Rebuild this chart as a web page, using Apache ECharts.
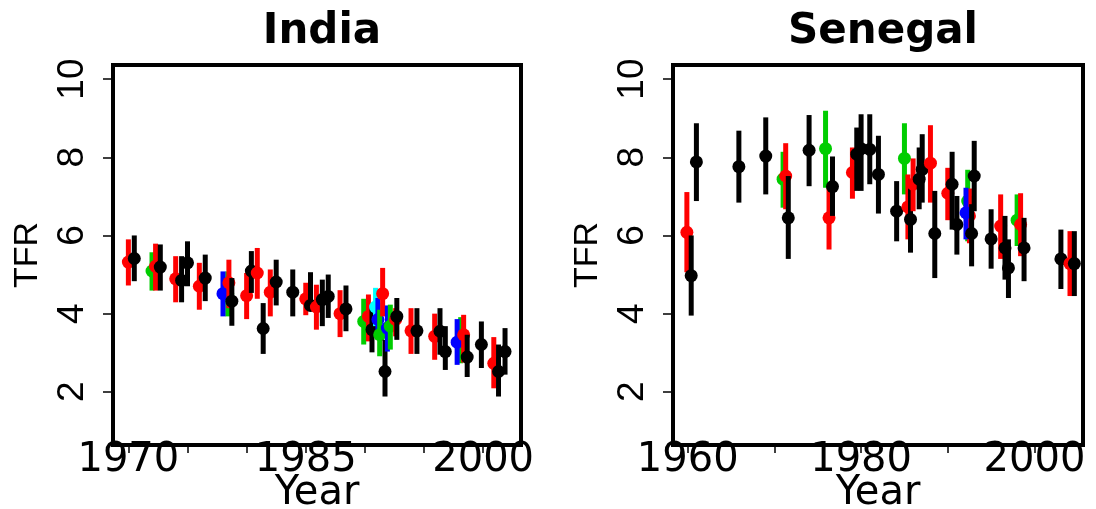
<!DOCTYPE html>
<html>
<head>
<meta charset="utf-8">
<script src="https://cdn.jsdelivr.net/npm/echarts@6/dist/echarts.min.js"></script>
<style>
  html, body { margin: 0; padding: 0; background: #fff; }
  #chart { width: 1096px; height: 509px; }
</style>
</head>
<body>
<div id="chart"></div>
<script>
// source codes: k black, r red, g green, b blue, c cyan
const indiaYear = [1970.0, 1970.5, 1972.0, 1972.3, 1972.7, 1974.0, 1974.5, 1975.0, 1976.0, 1976.5,
  1978.4, 1978.0, 1978.5, 1978.75, 1980.0, 1980.4, 1980.9, 1981.4, 1982.0, 1982.5,
  1983.9, 1985.0, 1985.4, 1985.9, 1986.4, 1986.9, 1987.9, 1988.4, 1989.9, 1990.3,
  1990.6, 1990.9, 1991.1, 1991.25, 1991.5, 1991.7, 1991.9, 1992.15, 1992.6, 1992.7,
  1993.9, 1994.4, 1995.9, 1996.35, 1996.8, 1998.1, 1997.8, 1998.35, 1998.65, 1999.85,
  2000.9, 2001.3, 2001.85];
const indiaTfr = [5.32, 5.41, 5.09, 5.21, 5.19, 4.89, 4.85, 5.30, 4.70, 4.91,
  4.51, 4.51, 4.79, 4.32, 4.46, 5.09, 5.04, 3.62, 4.55, 4.81,
  4.55, 4.38, 4.21, 4.17, 4.36, 4.44, 4.00, 4.12, 3.80, 3.93,
  3.59, 4.17, 3.85, 3.46, 4.51, 2.52, 3.63, 3.68, 3.85, 3.93,
  3.56, 3.56, 3.42, 3.55, 3.03, 3.33, 3.27, 3.46, 2.89, 3.21,
  2.73, 2.52, 3.03];
const indiaLo = [4.72, 4.83, 4.59, 4.59, 4.59, 4.29, 4.29, 4.70, 4.10, 4.32,
  3.93, 3.93, 4.14, 3.69, 3.86, 4.53, 4.38, 2.97, 3.93, 4.21,
  3.93, 3.96, 4.08, 3.59, 3.68, 3.89, 3.40, 3.55, 3.21, 3.29,
  3.01, 3.68, 3.46, 2.91, 3.93, 1.88, 3.03, 3.08, 3.42, 3.33,
  2.97, 2.97, 2.82, 2.95, 2.56, 2.73, 2.69, 2.75, 2.38, 2.61,
  2.09, 1.88, 2.44];
const indiaHi = [5.90, 6.00, 5.57, 5.79, 5.77, 5.47, 5.47, 5.85, 5.30, 5.51,
  5.08, 5.08, 5.38, 4.91, 5.04, 5.60, 5.68, 4.27, 5.13, 5.38,
  5.13, 4.79, 5.06, 4.74, 4.87, 5.00, 4.60, 4.72, 4.38, 4.49,
  4.19, 4.66, 4.40, 4.10, 5.17, 3.33, 4.21, 4.23, 4.14, 4.40,
  4.14, 4.14, 4.00, 4.14, 3.68, 3.91, 3.86, 3.97, 3.46, 3.80,
  3.40, 3.21, 3.63];
const indiaSrc = ['r', 'k', 'g', 'r', 'k', 'r', 'k', 'k', 'r', 'k',
  'g', 'b', 'r', 'k', 'r', 'k', 'r', 'k', 'r', 'k',
  'k', 'r', 'k', 'r', 'k', 'k', 'r', 'k', 'g', 'r',
  'k', 'c', 'b', 'g', 'r', 'k', 'b', 'g', 'r', 'k',
  'r', 'k', 'r', 'k', 'k', 'g', 'b', 'r', 'k', 'k',
  'r', 'k', 'k'];

const senegalYear = [1959.9, 1960.4, 1961.0, 1965.9, 1969.0, 1971.0, 1971.3, 1971.6, 1974.0, 1975.9,
  1976.3, 1976.7, 1979.0, 1979.5, 1980.0, 1981.0, 1982.0, 1984.1, 1985.0, 1985.4,
  1985.7, 1986.0, 1986.7, 1987.05, 1988.0, 1988.5, 1990.0, 1990.5, 1991.05, 1992.3,
  1992.5, 1992.1, 1992.75, 1993.05, 1995.0, 1996.1, 1996.6, 1997.0, 1998.0, 1998.4,
  1998.8, 2003.05, 2004.1, 2004.6];
const senegalTfr = [6.08, 4.97, 7.88, 7.76, 8.03, 7.44, 7.52, 6.45, 8.18, 8.22,
  6.45, 7.25, 7.61, 8.08, 8.22, 8.20, 7.56, 6.62, 7.97, 6.73,
  6.41, 7.31, 7.44, 7.69, 7.85, 6.05, 7.08, 7.31, 6.28, 6.88,
  6.50, 6.58, 6.05, 7.52, 5.91, 6.24, 5.68, 5.17, 6.39, 6.28,
  5.68, 5.40, 5.28, 5.28];
const senegalLo = [5.06, 3.95, 6.88, 6.84, 7.05, 6.71, 6.67, 5.40, 7.26, 7.22,
  5.64, 6.50, 6.94, 7.14, 7.14, 7.31, 6.56, 5.85, 7.05, 5.90,
  5.56, 6.62, 6.67, 6.84, 6.84, 4.91, 6.39, 6.15, 5.51, 5.85,
  5.80, 5.90, 5.21, 6.62, 5.15, 5.40, 4.87, 4.40, 5.73, 5.47,
  4.83, 4.63, 4.45, 4.45];
const senegalHi = [7.11, 6.00, 8.87, 8.68, 9.02, 8.14, 8.36, 7.52, 9.08, 9.19,
  7.22, 8.02, 8.25, 8.76, 9.10, 9.10, 8.55, 7.39, 8.87, 7.56,
  7.22, 7.97, 8.25, 8.59, 8.82, 7.14, 7.73, 8.14, 7.01, 7.68,
  7.20, 7.22, 6.80, 8.42, 6.67, 7.05, 6.50, 5.90, 7.05, 7.08,
  6.45, 6.15, 6.11, 6.11];
const senegalSrc = ['r', 'k', 'k', 'k', 'k', 'g', 'r', 'k', 'k', 'g',
  'r', 'k', 'r', 'k', 'k', 'k', 'k', 'k', 'g', 'r',
  'k', 'r', 'k', 'k', 'r', 'k', 'r', 'k', 'k', 'g',
  'r', 'b', 'k', 'k', 'k', 'r', 'k', 'k', 'g', 'r',
  'k', 'k', 'r', 'k'];

const yTicks = [2, 4, 6, 8, 10];
const indiaXTicks = [1970, 1975, 1980, 1985, 1990, 1995, 2000];
const indiaXLabels = [1970, 1985, 2000];
const senegalXTicks = [1960, 1970, 1980, 1990, 2000];
const senegalXLabels = [1960, 1980, 2000];

const colorMap = { k: '#000000', r: '#ff0000', g: '#00cd00', b: '#0000ff', c: '#00ffff' };

function rows(years, tfr, lo, hi, src) {
  return years.map((y, i) => [y, tfr[i], lo[i], hi[i], src[i]]);
}

function renderBar(params, api) {
  const x = api.value(0);
  const top = api.coord([x, api.value(3)]);
  const bot = api.coord([x, api.value(2)]);
  const mid = api.coord([x, api.value(1)]);
  const color = colorMap[api.value(4)];
  return {
    type: 'group',
    children: [
      {
        type: 'line',
        shape: { x1: top[0], y1: top[1], x2: bot[0], y2: bot[1] },
        style: { stroke: color, lineWidth: 5 }
      },
      {
        type: 'circle',
        shape: { cx: mid[0], cy: mid[1], r: 6.5 },
        style: { fill: color }
      }
    ]
  };
}

const labelFont = 'DejaVu Sans';
const ylabFont = 'Liberation Sans';

function xAxis(idx, min, max, ticks, labels) {
  return {
    type: 'value',
    gridIndex: idx,
    min: min,
    max: max,
    name: 'Year',
    nameLocation: 'middle',
    nameGap: 29,
    nameMoveOverlap: false,
    nameTextStyle: { fontFamily: labelFont, fontSize: 40, color: '#000', verticalAlign: 'top' },
    axisLine: { show: false },
    splitLine: { show: false },
    axisTick: { show: true, customValues: ticks, length: 8, lineStyle: { color: '#000', width: 1.5 } },
    axisLabel: {
      customValues: labels, margin: -4, fontFamily: labelFont, fontSize: 40, color: '#000',
      formatter: (v) => String(v)
    }
  };
}

function yAxis(idx) {
  return {
    type: 'value',
    gridIndex: idx,
    min: 0.64,
    max: 10.36,
    name: 'TFR',
    nameLocation: 'middle',
    nameGap: 68,
    nameMoveOverlap: false,
    nameTextStyle: { fontFamily: ylabFont, fontSize: 34, color: '#000' },
    axisLine: { show: false },
    splitLine: { show: false },
    axisTick: { show: true, customValues: yTicks, length: 10, lineStyle: { color: '#000', width: 1.5 } },
    axisLabel: { customValues: yTicks, rotate: 90, margin: 22, fontFamily: ylabFont, fontSize: 37, color: '#000' }
  };
}

const chart = echarts.init(document.getElementById('chart'), null, { renderer: 'canvas' });

chart.setOption({
  backgroundColor: '#fff',
  animation: false,
  title: [
    { text: 'India', left: 317, top: 6, textAlign: 'center',
      textStyle: { fontFamily: labelFont, fontSize: 42, fontWeight: 'bold', color: '#000' } },
    { text: 'Senegal', left: 878, top: 6, textAlign: 'center',
      textStyle: { fontFamily: labelFont, fontSize: 42, fontWeight: 'bold', color: '#000' } }
  ],
  grid: [
    { left: 113, right: 575, top: 65, bottom: 64, containLabel: false, outerBoundsMode: 'none',
      show: true, borderColor: '#000', borderWidth: 4, backgroundColor: '#fff' },
    { left: 673, right: 13, top: 65, bottom: 64, containLabel: false, outerBoundsMode: 'none',
      show: true, borderColor: '#000', borderWidth: 4, backgroundColor: '#fff' }
  ],
  xAxis: [
    xAxis(0, 1968.7, 2003.2, indiaXTicks, indiaXLabels),
    xAxis(1, 1958.3, 2005.6, senegalXTicks, senegalXLabels)
  ],
  yAxis: [yAxis(0), yAxis(1)],
  series: [
    {
      type: 'custom',
      xAxisIndex: 0,
      yAxisIndex: 0,
      renderItem: renderBar,
      data: rows(indiaYear, indiaTfr, indiaLo, indiaHi, indiaSrc)
    },
    {
      type: 'custom',
      xAxisIndex: 1,
      yAxisIndex: 1,
      renderItem: renderBar,
      data: rows(senegalYear, senegalTfr, senegalLo, senegalHi, senegalSrc)
    }
  ]
});
</script>
</body>
</html>
